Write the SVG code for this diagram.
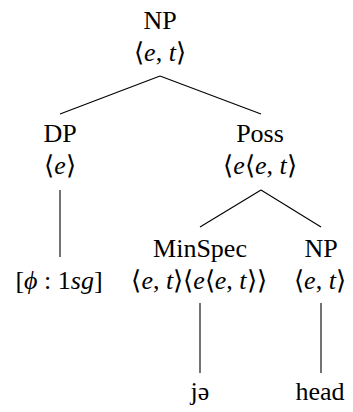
<svg xmlns="http://www.w3.org/2000/svg" width="353" height="412" viewBox="0 0 353 412" font-family="Liberation Serif, Times New Roman, serif" font-size="26">
<rect width="353" height="412" fill="#fff"/>
<g id="connectors" stroke="#000" stroke-width="1.1">
<line x1="160" y1="76" x2="60" y2="114"/>
<line x1="160" y1="76" x2="261" y2="114"/>
<line x1="60" y1="190" x2="60" y2="257"/>
<line x1="261" y1="190" x2="200" y2="227"/>
<line x1="261" y1="190" x2="321" y2="227"/>
<line x1="200" y1="303" x2="200" y2="373"/>
<line x1="321" y1="303" x2="321" y2="373"/>
</g>
<g text-anchor="middle">
<g id="np-root"><text x="160" y="29">NP</text><text x="160" y="61">⟨<tspan font-style="italic">e</tspan>, <tspan font-style="italic">t</tspan>⟩</text></g>
<g id="dp"><text x="60" y="142">DP</text><text x="60" y="174">⟨<tspan font-style="italic">e</tspan>⟩</text></g>
<g id="poss"><text x="260" y="142">Poss</text><text x="260" y="174">⟨<tspan font-style="italic">e</tspan>⟨<tspan font-style="italic">e</tspan>, <tspan font-style="italic">t</tspan>⟩</text></g>
<g id="phi"><text x="59" y="289">[<tspan font-style="italic">ϕ</tspan> : 1<tspan font-style="italic">sg</tspan>]</text></g>
<g id="minspec"><text x="200" y="257">MinSpec</text><text x="199" y="289">⟨<tspan font-style="italic">e</tspan>, <tspan font-style="italic">t</tspan>⟩⟨<tspan font-style="italic">e</tspan>⟨<tspan font-style="italic">e</tspan>, <tspan font-style="italic">t</tspan>⟩⟩</text></g>
<g id="np"><text x="321" y="257">NP</text><text x="320" y="289">⟨<tspan font-style="italic">e</tspan>, <tspan font-style="italic">t</tspan>⟩</text></g>
<g id="je"><text x="200" y="400">jə</text></g>
<g id="head"><text x="320" y="400">head</text></g>
</g>
</svg>
